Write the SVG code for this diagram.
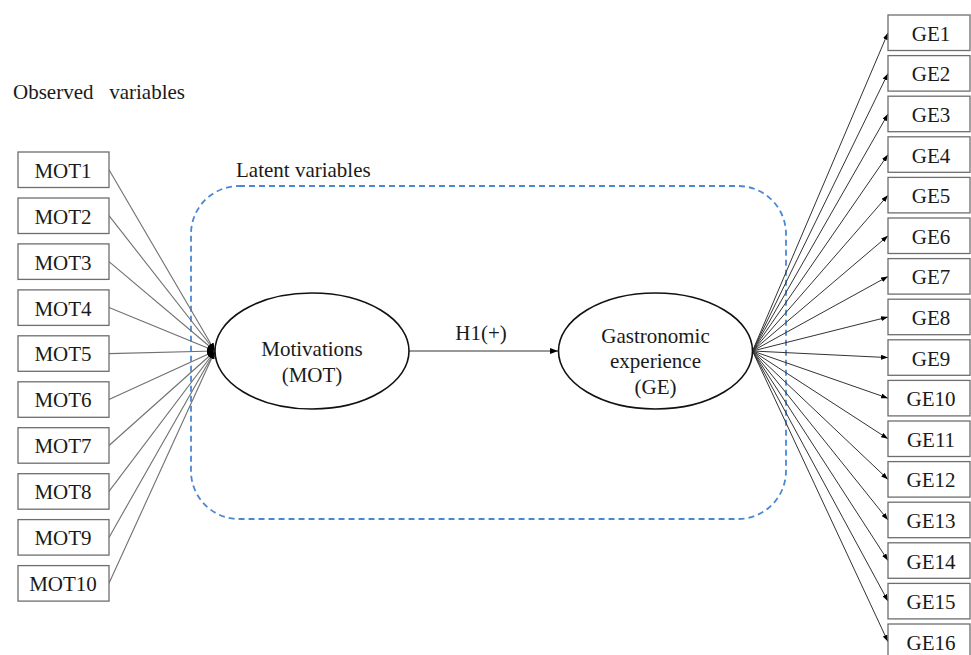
<svg xmlns="http://www.w3.org/2000/svg" width="971" height="655" viewBox="0 0 971 655">
<style>
text{font-family:"Liberation Serif","Times New Roman",serif;font-size:21px;fill:#1a1a1a}
.box{fill:#fff;stroke:#6e6e6e;stroke-width:1.3}
.ell{fill:#fff;stroke:#111;stroke-width:1.6}
.in{stroke:#707070;stroke-width:1.1;fill:none}
.out{stroke:#333;stroke-width:1;fill:none}
.c{text-anchor:middle}
</style>
<defs>
<marker id="ah" markerUnits="userSpaceOnUse" markerWidth="8" markerHeight="6" refX="8" refY="3" orient="auto"><path d="M0,0 L8,3 L0,6 z" fill="#000"/></marker>
<marker id="ahs" markerUnits="userSpaceOnUse" markerWidth="7" markerHeight="5" refX="7" refY="2.5" orient="auto"><path d="M0,0 L7,2.5 L0,5 z" fill="#000"/></marker>
</defs>
<rect id="latent-box" x="191" y="186" width="595" height="333" rx="48" ry="48" fill="none" stroke="#4a88d4" stroke-width="1.8" stroke-dasharray="6 4"/>
<text x="13" y="99" xml:space="preserve">Observed   variables</text>
<text x="236" y="177">Latent variables</text>
<g id="connectors">
<line class="in" x1="109" y1="169.8" x2="215" y2="351" marker-end="url(#ah)"/>
<line class="in" x1="109" y1="215.7" x2="215" y2="351" marker-end="url(#ah)"/>
<line class="in" x1="109" y1="261.7" x2="215" y2="351" marker-end="url(#ah)"/>
<line class="in" x1="109" y1="307.6" x2="215" y2="351" marker-end="url(#ah)"/>
<line class="in" x1="109" y1="353.6" x2="215" y2="351" marker-end="url(#ah)"/>
<line class="in" x1="109" y1="399.5" x2="215" y2="351" marker-end="url(#ah)"/>
<line class="in" x1="109" y1="445.5" x2="215" y2="351" marker-end="url(#ah)"/>
<line class="in" x1="109" y1="491.4" x2="215" y2="351" marker-end="url(#ah)"/>
<line class="in" x1="109" y1="537.4" x2="215" y2="351" marker-end="url(#ah)"/>
<line class="in" x1="109" y1="583.3" x2="215" y2="351" marker-end="url(#ah)"/>
<line class="out" x1="409" y1="351" x2="558" y2="351" marker-end="url(#ah)"/>
<line class="out" x1="752.5" y1="351" x2="888" y2="32.8" marker-end="url(#ahs)"/>
<line class="out" x1="752.5" y1="351" x2="888" y2="73.4" marker-end="url(#ahs)"/>
<line class="out" x1="752.5" y1="351" x2="888" y2="114" marker-end="url(#ahs)"/>
<line class="out" x1="752.5" y1="351" x2="888" y2="154.6" marker-end="url(#ahs)"/>
<line class="out" x1="752.5" y1="351" x2="888" y2="195.2" marker-end="url(#ahs)"/>
<line class="out" x1="752.5" y1="351" x2="888" y2="235.8" marker-end="url(#ahs)"/>
<line class="out" x1="752.5" y1="351" x2="888" y2="276.4" marker-end="url(#ahs)"/>
<line class="out" x1="752.5" y1="351" x2="888" y2="317" marker-end="url(#ahs)"/>
<line class="out" x1="752.5" y1="351" x2="888" y2="357.6" marker-end="url(#ahs)"/>
<line class="out" x1="752.5" y1="351" x2="888" y2="398.2" marker-end="url(#ahs)"/>
<line class="out" x1="752.5" y1="351" x2="888" y2="438.8" marker-end="url(#ahs)"/>
<line class="out" x1="752.5" y1="351" x2="888" y2="479.4" marker-end="url(#ahs)"/>
<line class="out" x1="752.5" y1="351" x2="888" y2="520" marker-end="url(#ahs)"/>
<line class="out" x1="752.5" y1="351" x2="888" y2="560.6" marker-end="url(#ahs)"/>
<line class="out" x1="752.5" y1="351" x2="888" y2="601.2" marker-end="url(#ahs)"/>
<line class="out" x1="752.5" y1="351" x2="888" y2="641.8" marker-end="url(#ahs)"/>
<text class="c" x="481" y="340">H1(+)</text>
</g>
<g id="MOT"><ellipse class="ell" cx="312" cy="351" rx="97" ry="58"/><text class="c" x="312" y="356">Motivations</text><text class="c" x="312" y="382">(MOT)</text></g>
<g id="GE"><ellipse class="ell" cx="655.5" cy="351" rx="97" ry="58"/><text class="c" x="655.5" y="343">Gastronomic</text><text class="c" x="655.5" y="368">experience</text><text class="c" x="655.5" y="394">(GE)</text></g>
<g id="MOT1"><rect class="box" x="18" y="152" width="91" height="35.5"/><text class="c" x="63" y="177.6">MOT1</text></g>
<g id="MOT2"><rect class="box" x="18" y="198" width="91" height="35.5"/><text class="c" x="63" y="223.6">MOT2</text></g>
<g id="MOT3"><rect class="box" x="18" y="243.9" width="91" height="35.5"/><text class="c" x="63" y="269.5">MOT3</text></g>
<g id="MOT4"><rect class="box" x="18" y="289.9" width="91" height="35.5"/><text class="c" x="63" y="315.5">MOT4</text></g>
<g id="MOT5"><rect class="box" x="18" y="335.8" width="91" height="35.5"/><text class="c" x="63" y="361.4">MOT5</text></g>
<g id="MOT6"><rect class="box" x="18" y="381.8" width="91" height="35.5"/><text class="c" x="63" y="407.4">MOT6</text></g>
<g id="MOT7"><rect class="box" x="18" y="427.7" width="91" height="35.5"/><text class="c" x="63" y="453.3">MOT7</text></g>
<g id="MOT8"><rect class="box" x="18" y="473.7" width="91" height="35.5"/><text class="c" x="63" y="499.3">MOT8</text></g>
<g id="MOT9"><rect class="box" x="18" y="519.6" width="91" height="35.5"/><text class="c" x="63" y="545.2">MOT9</text></g>
<g id="MOT10"><rect class="box" x="18" y="565.6" width="91" height="35.5"/><text class="c" x="63" y="591.2">MOT10</text></g>
<g id="GE1"><rect class="box" x="888" y="15" width="82" height="35.5"/><text class="c" x="931" y="40.7">GE1</text></g>
<g id="GE2"><rect class="box" x="888" y="55.6" width="82" height="35.5"/><text class="c" x="931" y="81.3">GE2</text></g>
<g id="GE3"><rect class="box" x="888" y="96.2" width="82" height="35.5"/><text class="c" x="931" y="121.9">GE3</text></g>
<g id="GE4"><rect class="box" x="888" y="136.8" width="82" height="35.5"/><text class="c" x="931" y="162.5">GE4</text></g>
<g id="GE5"><rect class="box" x="888" y="177.4" width="82" height="35.5"/><text class="c" x="931" y="203.1">GE5</text></g>
<g id="GE6"><rect class="box" x="888" y="218" width="82" height="35.5"/><text class="c" x="931" y="243.7">GE6</text></g>
<g id="GE7"><rect class="box" x="888" y="258.6" width="82" height="35.5"/><text class="c" x="931" y="284.3">GE7</text></g>
<g id="GE8"><rect class="box" x="888" y="299.2" width="82" height="35.5"/><text class="c" x="931" y="324.9">GE8</text></g>
<g id="GE9"><rect class="box" x="888" y="339.8" width="82" height="35.5"/><text class="c" x="931" y="365.5">GE9</text></g>
<g id="GE10"><rect class="box" x="888" y="380.4" width="82" height="35.5"/><text class="c" x="931" y="406.1">GE10</text></g>
<g id="GE11"><rect class="box" x="888" y="421" width="82" height="35.5"/><text class="c" x="931" y="446.7">GE11</text></g>
<g id="GE12"><rect class="box" x="888" y="461.6" width="82" height="35.5"/><text class="c" x="931" y="487.3">GE12</text></g>
<g id="GE13"><rect class="box" x="888" y="502.2" width="82" height="35.5"/><text class="c" x="931" y="527.9">GE13</text></g>
<g id="GE14"><rect class="box" x="888" y="542.8" width="82" height="35.5"/><text class="c" x="931" y="568.5">GE14</text></g>
<g id="GE15"><rect class="box" x="888" y="583.4" width="82" height="35.5"/><text class="c" x="931" y="609.1">GE15</text></g>
<g id="GE16"><rect class="box" x="888" y="624" width="82" height="35.5"/><text class="c" x="931" y="649.7">GE16</text></g>
</svg>
